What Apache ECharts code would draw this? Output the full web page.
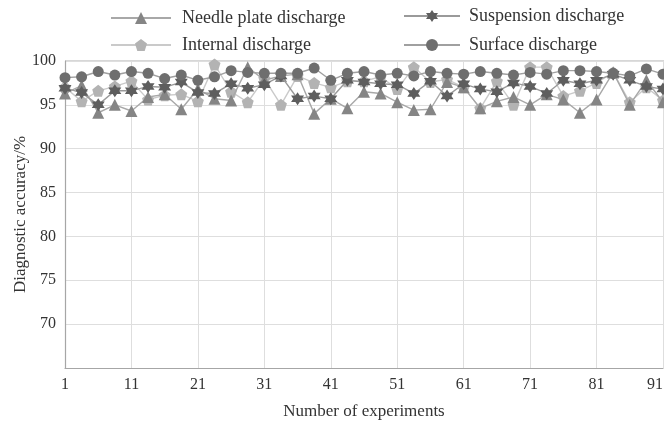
<!DOCTYPE html>
<html>
<head>
<meta charset="utf-8">
<script src="https://cdn.jsdelivr.net/npm/echarts@6/dist/echarts.min.js"></script>
<style>html,body{margin:0;padding:0;background:#fff}#c{width:664px;height:425px}</style>
</head>
<body>
<div id="c"></div>
<script>
var experiments = [1, 3.5, 6, 8.5, 11, 13.5, 16, 18.5, 21, 23.5, 26, 28.5, 31, 33.5, 36, 38.5, 41, 43.5, 46, 48.5, 51, 53.5, 56, 58.5, 61, 63.5, 66, 68.5, 71, 73.5, 76, 78.5, 81, 83.5, 86, 88.5, 91];
var needlePlate = [96.3, 97.2, 94.1, 95.0, 94.3, 95.9, 96.2, 94.5, 96.8, 95.7, 95.5, 99.3, 97.8, 98.3, 98.5, 94.0, 95.7, 94.6, 96.5, 96.3, 95.3, 94.4, 94.5, 97.6, 97.0, 94.6, 95.4, 95.9, 95.0, 96.2, 95.6, 94.1, 95.6, 98.7, 95.0, 97.8, 95.3];
var suspension = [96.9, 96.4, 95.0, 96.6, 96.6, 97.1, 97.0, 97.6, 96.4, 96.3, 97.4, 96.9, 97.3, 98.3, 95.7, 96.0, 95.7, 97.8, 97.6, 97.4, 97.3, 96.3, 97.7, 96.0, 97.4, 96.8, 96.5, 97.5, 97.1, 96.3, 97.8, 97.4, 97.8, 98.5, 97.8, 97.1, 96.8];
var internal = [97.0, 95.4, 96.6, 97.1, 97.7, 95.6, 96.1, 96.2, 95.4, 99.6, 96.5, 95.3, 98.0, 95.0, 98.3, 97.5, 97.0, 97.7, 97.7, 98.2, 96.8, 99.3, 97.6, 97.9, 97.0, 94.6, 97.7, 95.0, 99.3, 99.3, 96.0, 96.6, 97.5, 98.7, 95.3, 97.0, 95.5];
var surface = [98.1, 98.2, 98.8, 98.4, 98.8, 98.6, 98.0, 98.4, 97.8, 98.2, 98.9, 98.7, 98.6, 98.6, 98.6, 99.2, 97.8, 98.6, 98.8, 98.4, 98.6, 98.3, 98.8, 98.6, 98.5, 98.8, 98.6, 98.4, 98.7, 98.5, 98.9, 98.9, 98.8, 98.6, 98.3, 99.1, 98.5];
var seriesNames = ['Needle plate discharge', 'Suspension discharge', 'Internal discharge', 'Surface discharge'];
var yTicks = [65, 70, 75, 80, 85, 90, 95, 100];

function pairs(vals) { return vals.map(function (v, i) { return [experiments[i], v]; }); }

var hexagram = 'path://M0,-10 L2.89,-5 L8.66,-5 L5.77,0 L8.66,5 L2.89,5 L0,10 L-2.89,5 L-8.66,5 L-5.77,0 L-8.66,-5 L-2.89,-5 Z';
var pentagon = 'path://M0,-10 L9.51,-3.09 L5.88,8.09 L-5.88,8.09 L-9.51,-3.09 Z';
var font = '"Liberation Serif", "Times New Roman", serif';

function mk(name, vals, symbol, size, mcol, lcol, z) {
  return {
    name: name, type: 'line', data: pairs(vals), symbol: symbol, symbolSize: size,
    showAllSymbol: true, z: z,
    itemStyle: { color: mcol },
    lineStyle: { color: lcol, width: 1.4 },
    emphasis: { disabled: true }, animation: false
  };
}

var chart = echarts.init(document.getElementById('c'));
chart.setOption({
  animation: false,
  grid: { left: 65, right: 1, top: 61, bottom: 57, containLabel: false, outerBoundsMode: 'none' },
  legend: [
    { data: [seriesNames[0], seriesNames[2]], orient: 'vertical', left: 105, top: 4,
      itemWidth: 60, itemHeight: 15, itemGap: 9,
      textStyle: { fontFamily: font, fontSize: 18, color: '#333', padding: [0, 0, 0, 6] } },
    { data: [seriesNames[1], seriesNames[3]], orient: 'vertical', left: 398, top: 2,
      itemWidth: 56, itemHeight: 15, itemGap: 11,
      textStyle: { fontFamily: font, fontSize: 18, color: '#333', padding: [0, 0, 0, 4] } }
  ],
  xAxis: {
    type: 'value', min: 1, max: 91, interval: 10,
    name: 'Number of experiments', nameLocation: 'middle', nameGap: 35, nameMoveOverlap: false,
    nameTextStyle: { fontFamily: font, fontSize: 17, color: '#333' },
    axisLine: { show: true, lineStyle: { color: '#a6a6a6', width: 1.2 } },
    axisTick: { show: false },
    axisLabel: { fontFamily: font, fontSize: 16, color: '#333', margin: 9, alignMaxLabel: 'right' },
    splitLine: { show: true, lineStyle: { color: '#dedede', width: 1 } }
  },
  yAxis: {
    type: 'value', min: 65, max: 100, interval: 5,
    name: 'Diagnostic accuracy/%', nameLocation: 'middle', nameGap: 36, nameMoveOverlap: false,
    nameTextStyle: { fontFamily: font, fontSize: 17, color: '#333' },
    axisLine: { show: true, lineStyle: { color: '#a6a6a6', width: 1.2 } },
    axisTick: { show: false },
    axisLabel: { fontFamily: font, fontSize: 16, color: '#333', margin: 9,
      formatter: function (v) { return (v === yTicks[0]) ? '' : String(v); } },
    splitLine: { show: true, lineStyle: { color: '#dedede', width: 1 } }
  },
  series: [
    mk(seriesNames[0], needlePlate, 'triangle', 12, '#858585', '#a8a8a8', 2),
    mk(seriesNames[1], suspension, hexagram, 13, '#5e5e5e', '#9a9a9a', 3),
    mk(seriesNames[2], internal, pentagon, 12, '#b3b3b3', '#cacaca', 1),
    mk(seriesNames[3], surface, 'circle', 11, '#6e6e6e', '#a0a0a0', 4)
  ],
  graphic: [{
    type: 'line', shape: { x1: 65, y1: 61, x2: 664, y2: 61 },
    style: { stroke: '#b0b0b0', lineWidth: 1.2 }, z: 0
  }]
});
</script>
</body>
</html>
